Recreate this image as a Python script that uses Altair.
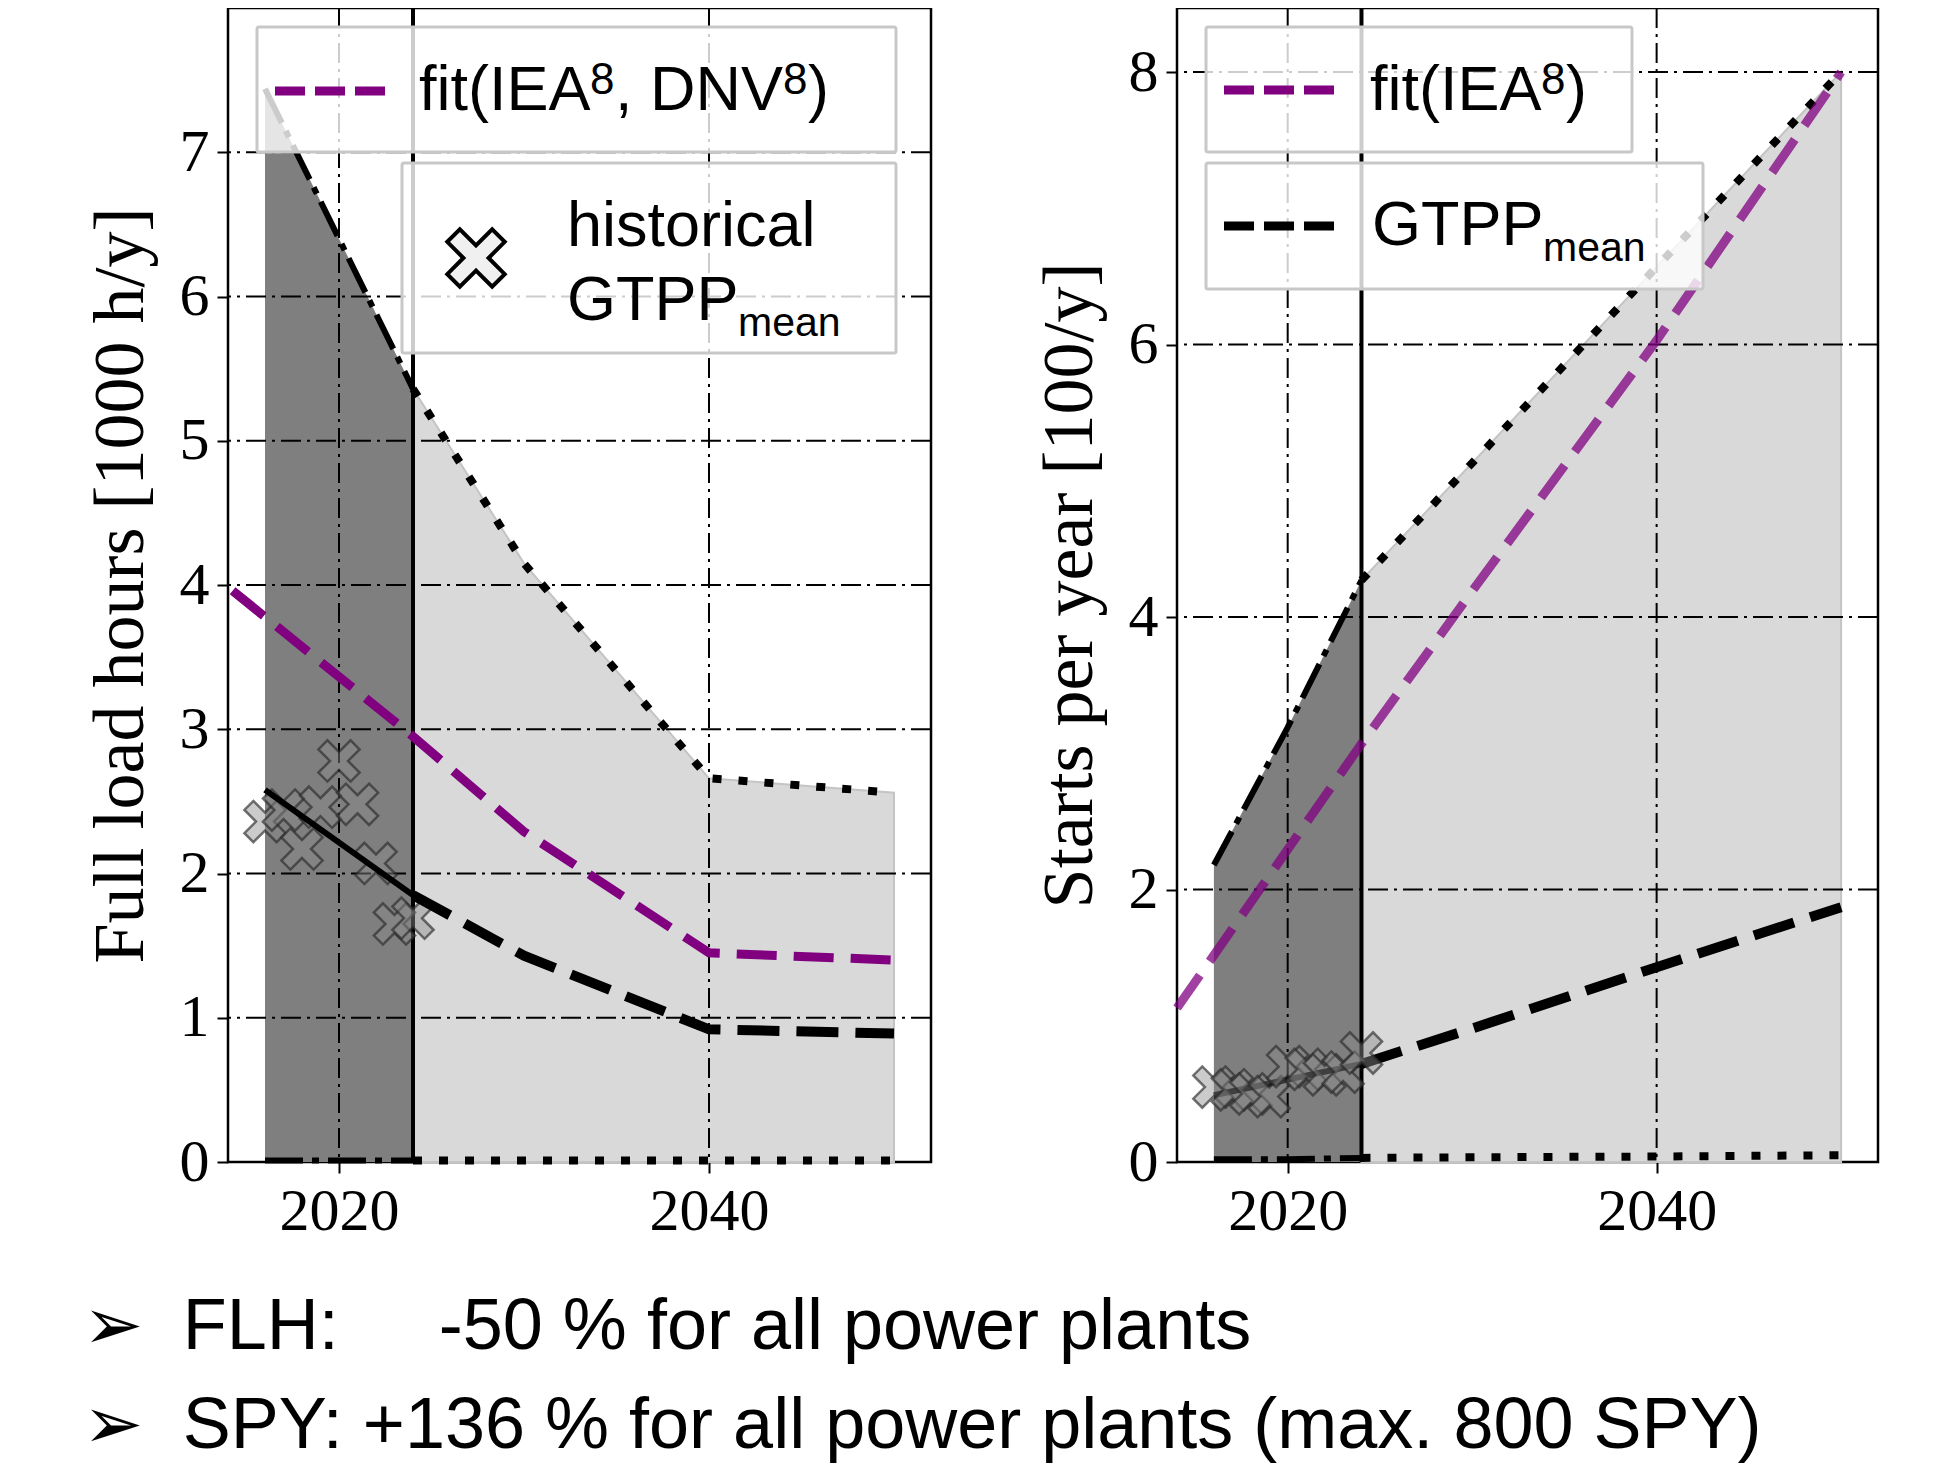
import altair as alt
import pandas as pd

# ---------------- data ----------------
hist_years = [2016, 2017, 2018, 2019, 2020, 2021, 2022, 2023, 2024]
flh_hist = [2.36, 2.44, 2.17, 2.46, 2.78, 2.48, 2.07, 1.65, 1.69]
spy_hist = [0.55, 0.53, 0.50, 0.48, 0.70, 0.68, 0.64, 0.66, 0.80]

band_years = [2016, 2020, 2024, 2030, 2040, 2050]
flh_upper = [7.44, 6.40, 5.36, 4.15, 2.66, 2.56]
flh_lower = [0.01, 0.01, 0.01, 0.01, 0.01, 0.01]
spy_upper = [2.18, 3.19, 4.27, 5.13, 6.57, 8.00]
spy_lower = [0.02, 0.02, 0.03, 0.035, 0.04, 0.05]

flh_fit_years = [2014.25, 2024, 2030, 2040, 2050]
flh_fit = [3.96, 2.95, 2.29, 1.45, 1.40]
spy_fit_years = [2014, 2024, 2030, 2040, 2050]
spy_fit = [1.13, 3.07, 4.19, 6.03, 8.00]

mean_years = [2016, 2024, 2030, 2040, 2050]
flh_mean = [2.58, 1.85, 1.43, 0.92, 0.89]
spy_mean = [0.49, 0.72, 0.98, 1.43, 1.87]

today = 2024
x_domain = [2014, 2052]
x_ticks = [2020, 2040]
flh_ticks = [0, 1, 2, 3, 4, 5, 6, 7]
spy_ticks = [0, 2, 4, 6, 8]

flh_title = "Full load hours [1000 h/y]"
spy_title = "Starts per year [100/y]"
bullet_lines = [
    "\u27a2\u00a0\u00a0FLH:\u00a0\u00a0\u00a0\u00a0\u00a0-50 % for all power plants",
    "\u27a2\u00a0\u00a0SPY: +136 % for all power plants (max. 800 SPY)",
]

# ---------------- styles ----------------
SERIF = "Liberation Serif"
SANS = "Liberation Sans"
PURPLE = "#800080"
GRID_DASH = [20, 6, 3, 6]
DASHDOT = [38, 9, 7, 9]
DOTTED = [9, 17]
X_SHAPE = ("M0,0.4375L-0.5625,1L-1,0.5625L-0.4375,0L-1,-0.5625L-0.5625,-1L0,-0.4375"
           "L0.5625,-1L1,-0.5625L0.4375,0L1,0.5625L0.5625,1Z")
W_LEFT, W_RIGHT, H = 703, 701, 1154
ONE = pd.DataFrame({"k": [0]})


def X():
    return alt.X("year:Q", scale=alt.Scale(domain=x_domain, nice=False, zero=False),
                 axis=alt.Axis(values=x_ticks, format="d", title=None, labelPadding=9))


def Y(domain, ticks, title):
    return alt.Y("v:Q", scale=alt.Scale(domain=domain, nice=False, zero=False),
                 axis=alt.Axis(values=ticks, title=title, titlePadding=22, labelPadding=8))


def label(s, x, y, size):
    return alt.Chart(ONE).mark_text(text=s, align="left", baseline="alphabetic",
                                    font=SANS, fontSize=size, color="black").encode(
        x=alt.value(x), y=alt.value(y))


def box(x1, x2, y1, y2):
    return alt.Chart(ONE).mark_rect(fill="white", fillOpacity=0.8, stroke="#c8c8c8",
                                    strokeWidth=3, cornerRadius=2).encode(
        x=alt.value(x1), x2=alt.value(x2), y=alt.value(y1), y2=alt.value(y2))


def handle(x1, x2, y, color, dash):
    return alt.Chart(ONE).mark_rule(color=color, strokeWidth=9, strokeDash=dash).encode(
        x=alt.value(x1), x2=alt.value(x2), y=alt.value(y))


def panel(upper, lower, fit_years, fit, fit_opacity, mean, hist, ydomain, yticks,
          ytitle, legend, crosses_on_top, width):
    x = X()
    y = Y(ydomain, yticks, ytitle)
    band = pd.DataFrame({"year": band_years, "v": upper, "lo": [0] * len(band_years)})
    low = pd.DataFrame({"year": band_years, "v": lower})
    past, fut = band[band.year <= today], band[band.year >= today]
    lpast, lfut = low[low.year <= today], low[low.year >= today]
    mdf = pd.DataFrame({"year": mean_years, "v": mean})
    fdf = pd.DataFrame({"year": fit_years, "v": fit})
    hdf = pd.DataFrame({"year": hist_years, "v": hist})

    light = alt.Chart(fut).mark_area(color="#d9d9d9", stroke="#c4c4c4", strokeWidth=2).encode(
        x=x, y=y, y2=alt.Y2("lo:Q"))
    dark = alt.Chart(past).mark_area(color="#7f7f7f").encode(x=x, y=y, y2=alt.Y2("lo:Q"))
    hgrid = alt.Chart(pd.DataFrame({"v": [t for t in yticks if t > 0]})).mark_rule(
        color="black", strokeWidth=2, strokeDash=GRID_DASH).encode(y=y)
    vgrid = alt.Chart(pd.DataFrame({"year": x_ticks})).mark_rule(
        color="black", strokeWidth=2, strokeDash=GRID_DASH).encode(x=x)
    low_past = alt.Chart(lpast).mark_line(color="black", strokeWidth=6, strokeDash=DASHDOT).encode(x=x, y=y)
    low_fut = alt.Chart(lfut).mark_line(color="black", strokeWidth=8, strokeDash=DOTTED).encode(x=x, y=y)
    up_past = alt.Chart(past).mark_line(color="black", strokeWidth=6, strokeDash=DASHDOT).encode(x=x, y=y)
    up_fut = alt.Chart(fut).mark_line(color="black", strokeWidth=8, strokeDash=DOTTED).encode(x=x, y=y)
    now = alt.Chart(pd.DataFrame({"year": [today]})).mark_rule(color="black", strokeWidth=4).encode(x=x)
    fitl = alt.Chart(fdf).mark_line(color=PURPLE, opacity=fit_opacity, strokeWidth=9,
                                    strokeDash=[40, 17]).encode(x=x, y=y)
    mean_past = alt.Chart(mdf[mdf.year <= today]).mark_line(color="black", strokeWidth=6).encode(x=x, y=y)
    mean_fut = alt.Chart(mdf[mdf.year >= today]).mark_line(color="black", strokeWidth=10,
                                                           strokeDash=[42, 17]).encode(x=x, y=y)
    crosses = alt.Chart(hdf).mark_point(shape=X_SHAPE, size=1700, filled=True, fill="#8c8c8c",
                                        fillOpacity=0.45, stroke="#2a2a2a", strokeOpacity=0.65,
                                        strokeWidth=2.5).encode(x=x, y=y)
    layers = [light, dark, hgrid, vgrid, low_past, low_fut, up_past, up_fut, now, fitl]
    if crosses_on_top:
        layers += [mean_past, mean_fut, crosses]
    else:
        layers += [crosses, mean_past, mean_fut]
    layers += legend
    return alt.layer(*layers).properties(width=width, height=H)


left_legend = [
    box(29, 668, 19, 144),
    handle(47, 157, 83, PURPLE, [30, 10]),
    label("fit(IEA", 191, 102, 63),
    label("8", 362, 86, 44),
    label(", DNV", 387, 102, 63),
    label("8", 555, 86, 44),
    label(")", 580, 102, 63),
    box(174, 668, 155, 345),
    alt.Chart(ONE).mark_point(shape=X_SHAPE, size=3300, filled=True, fill="#f0f0f0",
                              stroke="black", strokeWidth=4, opacity=1).encode(
        x=alt.value(248), y=alt.value(250)),
    label("historical", 339, 238, 63),
    label("GTPP", 339, 312, 63),
    label("mean", 510, 328, 41),
]

right_legend = [
    box(29, 455, 19, 144),
    handle(47, 157, 82, PURPLE, [30, 10]),
    label("fit(IEA", 193, 102, 63),
    label("8", 364, 86, 44),
    label(")", 389, 102, 63),
    box(29, 526, 155, 281),
    handle(47, 157, 218, "black", [30, 10]),
    label("GTPP", 195, 237, 63),
    label("mean", 366, 253, 41),
]

left = panel(flh_upper, flh_lower, flh_fit_years, flh_fit, 1.0, flh_mean, flh_hist,
             [0, 8.0], flh_ticks, flh_title, left_legend, False, W_LEFT)
right = panel(spy_upper, spy_lower, spy_fit_years, spy_fit, 0.75, spy_mean, spy_hist,
              [0, 8.47], spy_ticks, spy_title, right_legend, True, W_RIGHT)

chart = alt.hconcat(left, right, spacing=97).properties(
    padding={"left": 74, "top": -4, "right": 0, "bottom": 0},
    background="white",
    title=alt.TitleParams(text=bullet_lines, orient="bottom", anchor="start", font=SANS,
                          fontSize=72, fontWeight="normal", color="black", lineHeight=99,
                          offset=50),
).configure_view(stroke="black", strokeWidth=2.5).configure_axis(
    labelFont=SERIF, labelFontSize=60, labelColor="black", titleFont=SERIF,
    titleFontSize=72, titleFontWeight="normal", titleColor="black", tickColor="black",
    tickWidth=2, tickSize=11, domain=False, grid=False,
)

chart.save("out.html", embed_options={"renderer": "svg", "actions": False})
